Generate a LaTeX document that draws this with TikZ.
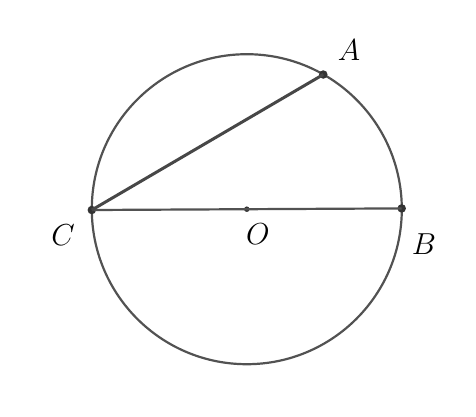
\documentclass[tikz,border=0pt]{standalone}
\begin{document}
\begin{tikzpicture}[x=1pt,y=-1pt,
  seg/.style={draw=black!68, line width=2.2pt},
  chord/.style={draw=black!72, line width=3pt},
  pt/.style={circle, fill=black!80, inner sep=0pt, minimum size=8.5pt},
  ptsmall/.style={circle, fill=black!80, inner sep=0pt, minimum size=5.5pt},
  lab/.style={font=\fontsize{24.88}{30}\selectfont, scale=1.22}]
\useasboundingbox (0,0) rectangle (476,416);
\coordinate (O) at (246.8,209.2);
\draw[seg] (O) circle (155);
\node[pt] (C) at (91.8,210) {};
\node[pt] (B) at (401.7,208.4) {};
\node[pt] (A) at (323.3,74.5) {};
\node[ptsmall] (Od) at (O) {};
\draw[seg] (C.center) -- (B.center);
\draw[chord] (C.center) -- (A.center);
\node[lab] (lA) at (349,50) {$A$};
\node[lab] (lB) at (424,244) {$B$};
\node[lab] (lC) at (63,235) {$C$};
\node[lab] (lO) at (258,234) {$O$};
\end{tikzpicture}
\end{document}
